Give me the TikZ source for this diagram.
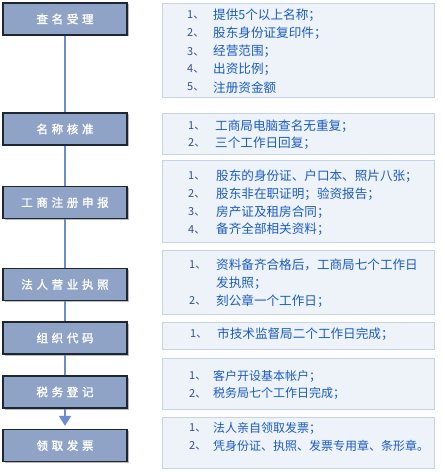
\documentclass[tikz,border=0pt]{standalone}
\usepackage{fontspec}
\newfontfamily\cjk{Noto Sans CJK SC}
\newfontfamily\cjkb[FakeBold=1.6,LetterSpace=32]{Noto Sans CJK SC}
\usetikzlibrary{shadows,arrows.meta}
\definecolor{lfill}{HTML}{8EA3C5}
\definecolor{ldraw}{HTML}{1E2633}
\definecolor{rfill}{HTML}{EEF3FA}
\definecolor{rdraw}{HTML}{C6D3E4}
\definecolor{txtblue}{HTML}{1A5BC4}
\definecolor{numcol}{HTML}{34508A}
\definecolor{linkcol}{HTML}{6A8DCF}
\tikzset{
  lbox/.style={draw=ldraw, line width=1.3pt, fill=lfill, minimum width=124pt, minimum height=32pt,
    inner sep=0pt, font=\cjkb\fontsize{11.5pt}{12pt}\selectfont, text=white,
    drop shadow={shadow xshift=1.5pt, shadow yshift=-1.5pt, fill=black!45, opacity=0.6}},
  rbox/.style={draw=rdraw, line width=0.8pt, fill=rfill, minimum width=272pt, inner sep=0pt},
  num/.style={anchor=west, inner sep=0pt, text=numcol, font=\cjk\fontsize{11pt}{12pt}\selectfont},
  txt/.style={anchor=west, inner sep=0pt, text=txtblue, font=\cjk\fontsize{12.6pt}{13pt}\selectfont},
  txts/.style={txt, font=\cjk\fontsize{12pt}{13pt}\selectfont},
  link/.style={draw=linkcol, line width=2pt}
}
% #1 name, #2 y, #3 number x, #4 text x, #5 number, #6 text, #7 style
\newcommand{\rline}[7]{%
  \node[num] (#1n) at (#3,#2) {#5};
  \node[#7] (#1t) at (#4,#2) {#6};}
\begin{document}
\begin{tikzpicture}[x=1pt,y=-1pt]
\useasboundingbox[fill=white] (0,0) rectangle (441,473);
% right boxes
\node[rbox, minimum height=94pt] (r1) at (298,50) {};
\node[rbox, minimum height=41pt] (r2) at (298,133.5) {};
\node[rbox, minimum height=82pt] (r3) at (298,201) {};
\node[rbox, minimum height=64pt] (r4) at (298,282) {};
\node[rbox, minimum height=27pt] (r5) at (298,335.5) {};
\node[rbox, minimum height=51pt] (r6) at (298,383.5) {};
\node[rbox, minimum height=51pt] (r7) at (298,442.5) {};
% connectors
\draw[link] (65,35) coordinate (c1) -- (65,113) coordinate (c2);
\draw[link] (65,145) coordinate (c3) -- (65,186) coordinate (c4);
\draw[link] (65,219) coordinate (c5) -- (65,268) coordinate (c6);
\draw[link] (65,301) coordinate (c7) -- (65,322) coordinate (c8);
\draw[link] (65,354) coordinate (c9) -- (65,376) coordinate (c10);
% left boxes
\node[lbox] (l1) at (65,19) {查名受理};
\node[lbox] (l2) at (65,129) {名称核准};
\node[lbox] (l3) at (65,202.5) {工商注册申报};
\node[lbox] (l4) at (65,284.5) {法人营业执照};
\node[lbox] (l5) at (65,338) {组织代码};
\node[lbox] (l6) at (65,392) {税务登记};
\node[lbox] (l7) at (65,445.5) {领取发票};
\draw[link, -{Triangle[width=12pt,length=10pt]}, shorten >=3pt] (l6.south) -- (l7.north);
% texts
\rline{a1}{15}{187}{213}{1、}{提供5个以上名称；}{txt}
\rline{a2}{33.3}{187}{213}{2、}{股东身份证复印件；}{txt}
\rline{a3}{51.7}{187}{213}{3、}{经营范围；}{txt}
\rline{a4}{69.3}{187}{213}{4、}{出资比例；}{txt}
\rline{a5}{87.3}{187}{213}{5、}{注册资金额}{txt}
\rline{b1}{125.7}{188}{215}{1、}{工商局电脑查名无重复；}{txt}
\rline{b2}{143.3}{188}{215}{2、}{三个工作日回复；}{txt}
\rline{c1}{176}{188}{216}{1、}{股东的身份证、户口本、照片八张；}{txt}
\rline{c2}{194}{188}{216}{2、}{股东非在职证明；验资报告；}{txt}
\rline{c3}{212}{188}{216}{3、}{房产证及租房合同；}{txt}
\rline{c4}{229.5}{188}{216}{4、}{备齐全部相关资料；}{txt}
\rline{d1}{265}{189}{216}{1、}{资料备齐合格后，工商局七个工作日}{txt}
\node[txt] (d1b) at (216,283) {发执照；};
\rline{d2}{301}{189}{216}{2、}{刻公章一个工作日；}{txt}
\rline{e1}{334}{190}{217}{1、}{市技术监督局二个工作日完成；}{txt}
\rline{f1}{376}{189}{213}{1、}{客户开设基本帐户；}{txts}
\rline{f2}{393.5}{189}{213}{2、}{税务局七个工作日完成；}{txts}
\rline{g1}{428}{189}{213}{1、}{法人亲自领取发票；}{txts}
\rline{g2}{446}{189}{213}{2、}{凭身份证、执照、发票专用章、条形章。}{txts}
\end{tikzpicture}
\end{document}
